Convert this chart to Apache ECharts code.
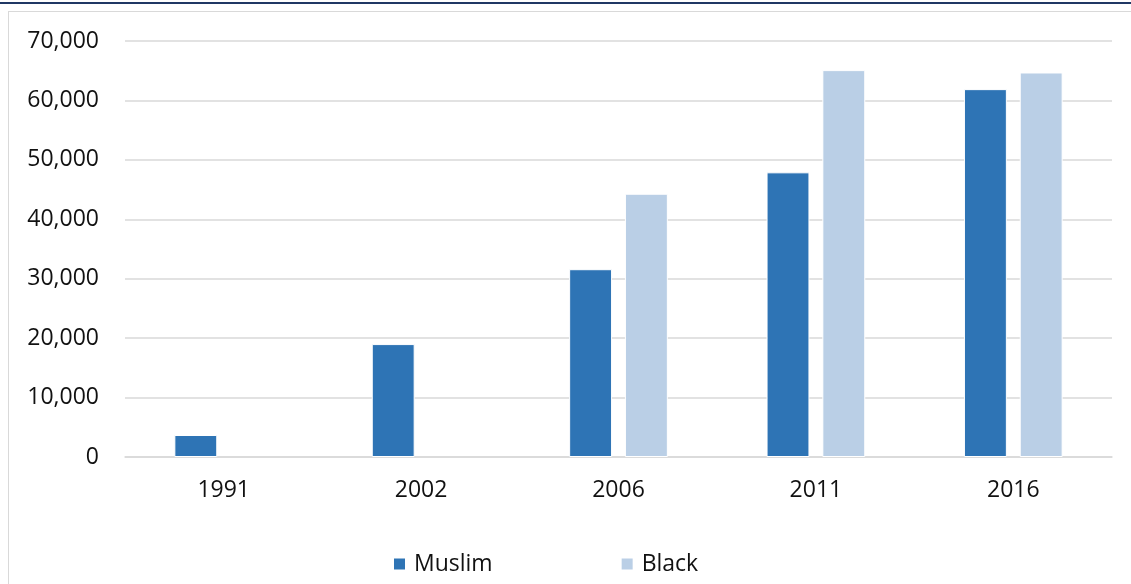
<!DOCTYPE html>
<html>
<head>
<meta charset="utf-8">
<script src="https://cdn.jsdelivr.net/npm/echarts@6/dist/echarts.min.js"></script>
<style>
html,body{margin:0;padding:0;background:#fff;}
#topline{position:absolute;left:0;top:2px;width:1131px;height:2px;background:#203864;}
#box{position:absolute;left:8px;top:11px;width:1140px;height:600px;border:1px solid #d9d9d9;border-width:1.5px 0 0 1.5px;box-sizing:border-box;}
#chart{position:absolute;left:0;top:0;width:1131px;height:584px;}
</style>
</head>
<body>
<div id="topline"></div>
<div id="box"></div>
<div id="chart"></div>
<script>
const categories = ['1991', '2002', '2006', '2011', '2016'];
const muslim = [3700, 19000, 31600, 47900, 61900];
const black = [null, null, 44300, 65100, 64700];
const seriesNames = ['Muslim', 'Black'];

const chart = echarts.init(document.getElementById('chart'));
const font = 'Open Sans, Noto Sans, sans-serif';
chart.setOption({
  animation: false,
  textStyle: {fontFamily: font},
  grid: {left: 125, right: 19, top: 41, bottom: 127, containLabel: false},
  legend: {
    data: seriesNames,
    left: 392, top: 552, padding: 0,
    itemWidth: 13, itemHeight: 13, itemGap: 127,
    icon: 'rect',
    textStyle: {fontSize: 23, lineHeight: 24, color: '#111', fontFamily: font, padding: [0,0,0,3]}
  },
  xAxis: {
    type: 'category',
    data: categories,
    axisLine: {show: true, lineStyle: {color: '#d9d9d9', width: 1.5}},
    axisTick: {show: false},
    axisLabel: {fontSize: 23, color: '#111', margin: 22, fontFamily: font}
  },
  yAxis: {
    type: 'value',
    min: 0, max: 70000, interval: 10000,
    axisLine: {show: false},
    axisTick: {show: false},
    splitLine: {lineStyle: {color: '#d9d9d9', width: 1.5}},
    axisLabel: {
      fontSize: 23, color: '#111', margin: 26, fontFamily: font,
      formatter: v => v.toLocaleString('en-US')
    }
  },
  series: [
    {name: seriesNames[0], type: 'bar', data: muslim, barGap: '30%', barCategoryGap: '50%',
     itemStyle: {color: '#2e74b5', borderColor: '#fff', borderWidth: 1}},
    {name: seriesNames[1], type: 'bar', data: black, barGap: '30%', barCategoryGap: '50%',
     itemStyle: {color: '#bacfe6', borderColor: '#fff', borderWidth: 1}}
  ]
});
</script>
</body>
</html>
